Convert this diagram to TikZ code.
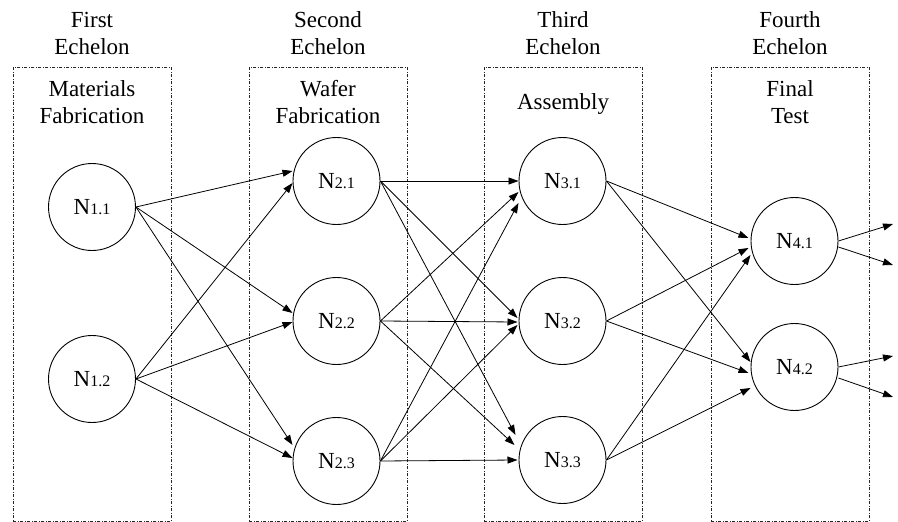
\documentclass[tikz,border=0pt]{standalone}
\usepackage{fontspec}
\setmainfont{Liberation Serif}
\usetikzlibrary{arrows.meta,calc}
\newcommand\idx[1]{{\fontsize{16}{16}\selectfont #1}}
\begin{document}
\begin{tikzpicture}[x=1pt,y=-1pt,
  echelon/.style={draw=black!85, line width=0.8pt,
    dash pattern=on 3pt off 1.5pt on 1pt off 1.5pt,
    minimum width=158pt, minimum height=454pt, inner sep=0pt, anchor=north west},
  stage/.style={circle, draw, line width=0.9pt, minimum size=87pt, inner sep=0pt,
    font=\fontsize{23}{23}\selectfont},
  caption/.style={align=center, inner sep=0pt, font=\fontsize{23}{27}\selectfont},
  flow/.style={-{Triangle[length=10pt,width=7pt]}, line width=0.8pt}]

\useasboundingbox (0,0) rectangle (898,522);

% echelon frames
\node[echelon] (e1) at (13,67) {};
\node[echelon] (e2) at (249,67) {};
\node[echelon] (e3) at (484,67) {};
\node[echelon] (e4) at (711,67) {};

% echelon headings
\node[caption] (h1) at (92,33) {First\\Echelon};
\node[caption] (h2) at (328,33) {Second\\Echelon};
\node[caption] (h3) at (563,33) {Third\\Echelon};
\node[caption] (h4) at (790,33) {Fourth\\Echelon};

% stage names
\node[caption] (s1) at (92,102) {Materials\\Fabrication};
\node[caption] (s2) at (328,102) {Wafer\\Fabrication};
\node[caption, text depth=0pt] (s3) at (563,102) {Assembly};
\node[caption] (s4) at (790,102) {Final\\Test};

% facilities
\node[stage] (n11) at (92,207) {N\idx{1.1}};
\node[stage] (n12) at (92,379) {N\idx{1.2}};
\node[stage] (n21) at (336.5,181) {N\idx{2.1}};
\node[stage] (n22) at (336.5,321) {N\idx{2.2}};
\node[stage] (n23) at (336.5,461) {N\idx{2.3}};
\node[stage] (n31) at (562.5,181) {N\idx{3.1}};
\node[stage] (n32) at (562.5,321) {N\idx{3.2}};
\node[stage] (n33) at (562.5,460) {N\idx{3.3}};
\node[stage] (n41) at (794.5,241) {N\idx{4.1}};
\node[stage] (n42) at (794.5,367) {N\idx{4.2}};

% outgoing shipments
\coordinate (o1a) at (893,224);
\coordinate (o1b) at (893,265);
\coordinate (o2a) at (893,356);
\coordinate (o2b) at (893,397);

% first -> second echelon
\draw[flow] (n11.east) -- ($(n21)+(-44,-10)$);
\draw[flow] (n11.east) -- ($(n22)+(-44,-8)$);
\draw[flow] (n11.east) -- ($(n23)+(-44,-16)$);
\draw[flow] (n12.east) -- ($(n21)+(-44,2)$);
\draw[flow] (n12.east) -- ($(n22)+(-44,1)$);
\draw[flow] (n12.east) -- ($(n23)+(-44,-3)$);

% second -> third echelon
\draw[flow] (n21.east) -- ($(n31)+(-44,0)$);
\draw[flow] (n21.east) -- ($(n32)+(-45,-3)$);
\draw[flow] (n21.east) -- ($(n33)+(-47,-25)$);
\draw[flow] (n22.east) -- ($(n31)+(-44,11)$);
\draw[flow] (n22.east) -- ($(n32)+(-45,1)$);
\draw[flow] (n22.east) -- ($(n33)+(-48,-15)$);
\draw[flow] (n23.east) -- ($(n31)+(-44,22)$);
\draw[flow] (n23.east) -- ($(n32)+(-45,4)$);
\draw[flow] (n23.east) -- ($(n33)+(-45,0)$);

% third -> fourth echelon
\draw[flow] (n31.east) -- ($(n41)+(-46,-3)$);
\draw[flow] (n31.east) -- ($(n42)+(-44,-5)$);
\draw[flow] (n32.east) -- ($(n41)+(-46,7)$);
\draw[flow] (n32.east) -- ($(n42)+(-46,6)$);
\draw[flow] (n33.east) -- ($(n41)+(-44,14)$);
\draw[flow] (n33.east) -- ($(n42)+(-44,21)$);

% shipments leaving the final echelon
\draw[flow] (n41.east) -- (o1a);
\draw[flow] ($(n41.east)+(0,6)$) -- (o1b);
\draw[flow] (n42.east) -- (o2a);
\draw[flow] ($(n42.east)+(0,11)$) -- (o2b);
\end{tikzpicture}
\end{document}
